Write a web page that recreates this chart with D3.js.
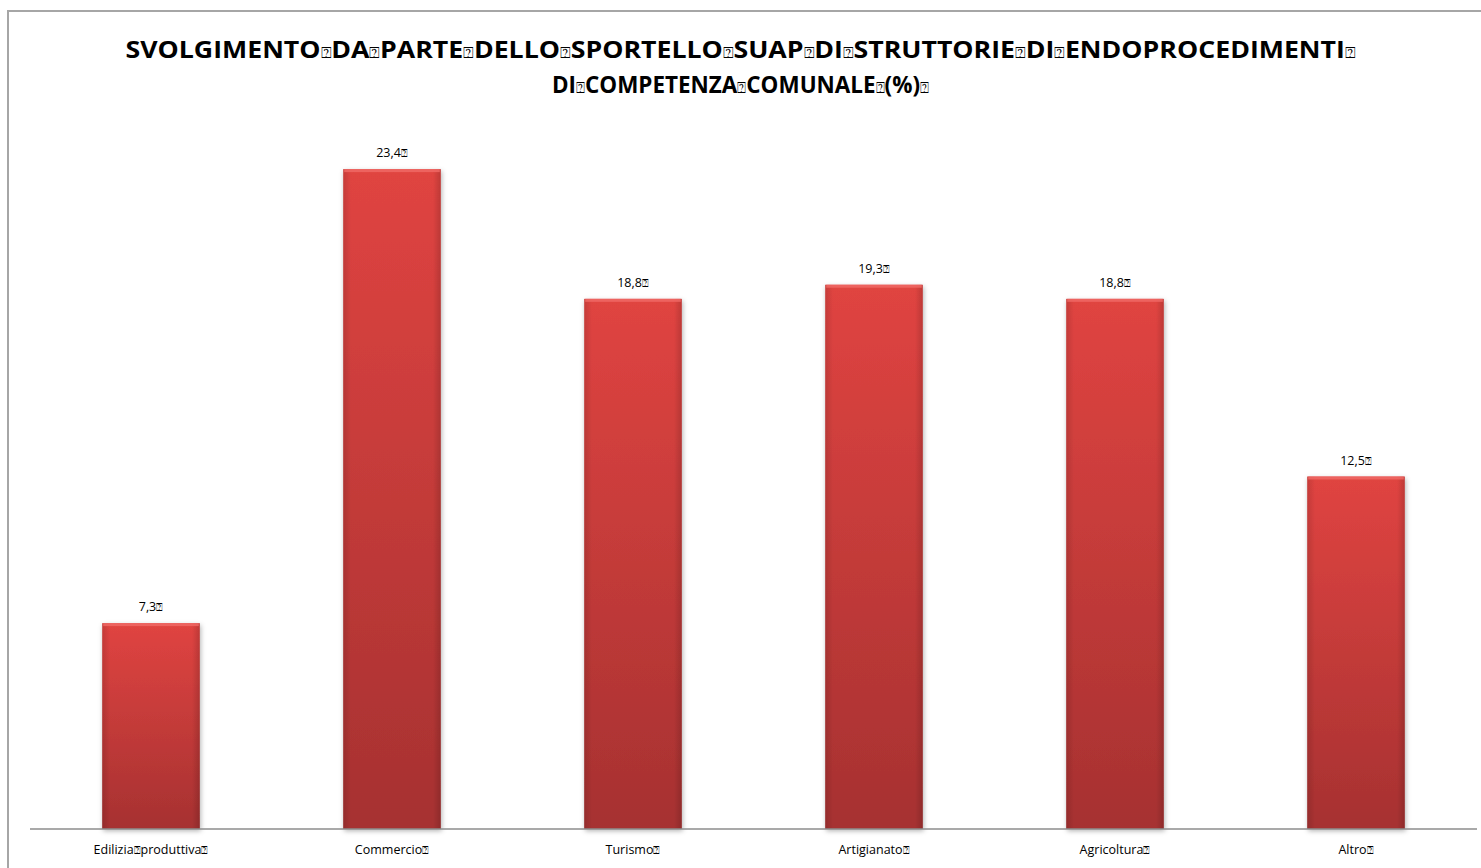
<!DOCTYPE html>
<html><head><meta charset="utf-8">
<script src="https://cdn.jsdelivr.net/npm/d3@7"></script>
<style>body{margin:0;background:#fff;}svg{display:block;}</style>
</head><body>
<svg id="c" width="1481" height="868"></svg>
<script>
const categories = ["Edilizia produttiva", "Commercio", "Turismo", "Artigianato", "Agricoltura", "Altro"];
const values = [7.3, 23.4, 18.8, 19.3, 18.8, 12.5];
const valueLabels = ["7,3", "23,4", "18,8", "19,3", "18,8", "12,5"];
const titleLines = [["SVOLGIMENTO","DA","PARTE","DELLO","SPORTELLO","SUAP","DI","STRUTTORIE","DI","ENDOPROCEDIMENTI",""],
                    ["DI","COMPETENZA","COMUNALE","(%)",""]];
const BOX = "\u2370";
const font = "'Open Sans', 'Liberation Sans', sans-serif";

const svg = d3.select("#c");
const defs = svg.append("defs");
const g1 = defs.append("linearGradient").attr("id","barg").attr("x1",0).attr("y1",0).attr("x2",0).attr("y2",1);
g1.append("stop").attr("offset","0%").attr("stop-color","#e04441");
g1.append("stop").attr("offset","100%").attr("stop-color","#a63131");
const g2 = defs.append("linearGradient").attr("id","barh").attr("x1",0).attr("y1",0).attr("x2",1).attr("y2",0);
g2.append("stop").attr("offset","0%").attr("stop-color","#000").attr("stop-opacity",0.12);
g2.append("stop").attr("offset","8%").attr("stop-color","#000").attr("stop-opacity",0);
g2.append("stop").attr("offset","92%").attr("stop-color","#000").attr("stop-opacity",0);
g2.append("stop").attr("offset","100%").attr("stop-color","#000").attr("stop-opacity",0.15);
const f = defs.append("filter").attr("id","sh").attr("x","-20%").attr("y","-5%").attr("width","140%").attr("height","110%");
f.append("feDropShadow").attr("dx",1).attr("dy",2).attr("stdDeviation",2.5).attr("flood-color","#000").attr("flood-opacity",0.3);

// frame
svg.append("rect").attr("x",8).attr("y",11).attr("width",1490).attr("height",880)
  .attr("fill","none").attr("stroke","#a6a6a6").attr("stroke-width",2);

const x = d3.scaleBand().domain(categories).range([30.5, 1476.5]).paddingInner(0.595).paddingOuter(0.2975);
const y = d3.scaleLinear().domain([0, 25]).range([829, 829 - 25*28.2]);

// bars
const bars = svg.append("g").selectAll("g").data(categories).join("g");
bars.append("rect").attr("x",d=>x(d)).attr("y",(d,i)=>y(values[i])).attr("width",x.bandwidth())
  .attr("height",(d,i)=>y(0)-y(values[i])).attr("fill","url(#barg)").attr("filter","url(#sh)");
bars.append("rect").attr("x",d=>x(d)).attr("y",(d,i)=>y(values[i])).attr("width",x.bandwidth())
  .attr("height",(d,i)=>y(0)-y(values[i])).attr("fill","url(#barh)");
bars.append("rect").attr("x",d=>x(d)+1).attr("y",(d,i)=>y(values[i])).attr("width",x.bandwidth()-2)
  .attr("height",3).attr("fill","#f06a66").attr("opacity",0.8);

// axis
const axis = d3.axisBottom(x).tickSize(0).tickPadding(16).tickFormat(d=>d);
const ax = svg.append("g").attr("transform","translate(0,829)").call(axis);
ax.select(".domain").attr("stroke","#8c8c8c").attr("stroke-width",1.3).attr("d","M30,0H1477");
ax.selectAll(".tick text").attr("font-family",font).attr("font-size",12.5).attr("fill","#000")
  .text(null).each(function(d){
    const t = d3.select(this);
    const words = d.split(" ");
    words.forEach((w,i)=>{
      if(i>0) t.append("tspan").attr("font-size",11).text(BOX);
      t.append("tspan").text(w);
    });
    t.append("tspan").attr("font-size",11).text(BOX);
  });

// value labels
svg.append("g").selectAll("text").data(categories).join("text")
  .attr("x",d=>x(d)+x.bandwidth()/2).attr("y",(d,i)=>y(values[i])-12)
  .attr("text-anchor","middle").attr("font-family",font).attr("font-size",12.5).attr("fill","#000")
  .each(function(d,i){
    const t = d3.select(this);
    t.append("tspan").text(valueLabels[i]);
    t.append("tspan").attr("font-size",11).text(BOX);
  });

// title
const tY = [58, 93];
const tW = [1230, 377];
titleLines.forEach((words,li)=>{
  const t = svg.append("text").attr("x",740.5).attr("y",tY[li]).attr("text-anchor","middle")
    .attr("font-family",font).attr("font-weight","bold").attr("font-size",22.5).attr("fill","#000")
    .attr("textLength",tW[li]).attr("lengthAdjust","spacingAndGlyphs");
  words.forEach((w,i)=>{
    if(i>0) t.append("tspan").attr("font-size",15).attr("font-weight","normal").text(BOX);
    if(w) t.append("tspan").text(w);
  });
});
</script>
</body></html>
